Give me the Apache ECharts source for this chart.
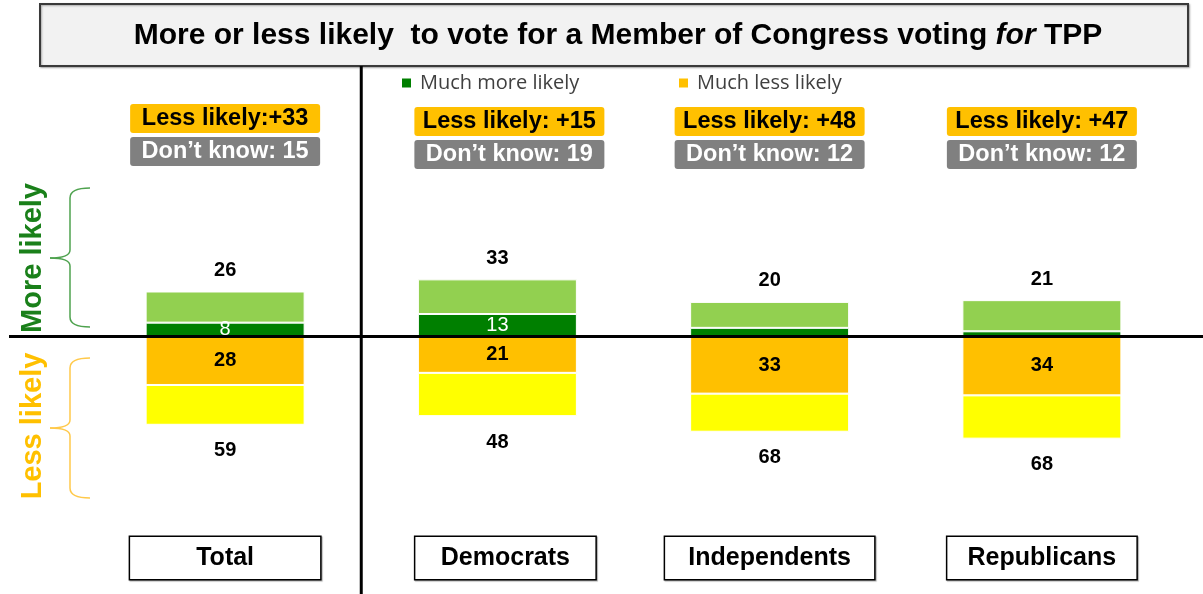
<!DOCTYPE html>
<html>
<head>
<meta charset="utf-8">
<script src="https://cdn.jsdelivr.net/npm/echarts@6/dist/echarts.min.js"></script>
<style>
html,body{margin:0;padding:0;background:#fff;}
#main{width:1203px;height:594px;}
</style>
</head>
<body>
<div id="main"></div>
<script>
const categories = ['Total', 'Democrats', 'Independents', 'Republicans'];
const muchMore = [8, 13, 5, 3];
const somewhatMore = [18, 20, 15, 18];
const muchLess = [28, 21, 33, 34];
const somewhatLess = [23, 25, 22, 25];
const moreTotals = [26, 33, 20, 21];
const lessTotals = [59, 48, 68, 68];
const netLabels = ['Less likely:+33', 'Less likely: +15', 'Less likely: +48', 'Less likely: +47'];
const dontKnow = [15, 19, 12, 12];

const BOLD = 'Liberation Sans, Arial, sans-serif';
const boxW = [190, 180, 209, 189];
const boxShift = [0, 8, 0, 0];
const annoShift = [0, 12, 0, 0];

const chart = echarts.init(document.getElementById('main'));
const rich = {sp1: {width: 16, height: 42}};
categories.forEach((c, i) => {
  rich['c' + i] = {
    width: boxW[i], height: 42, align: 'center', verticalAlign: 'middle',
    borderColor: '#000', borderWidth: 1.5, backgroundColor: '#fff',
    fontFamily: BOLD, fontWeight: 'bold', fontSize: 25, color: '#000',
    shadowColor: 'rgba(0,0,0,0.35)', shadowOffsetX: 1, shadowOffsetY: 1, shadowBlur: 1
  };
});

chart.setOption({
  animation: false,
  grid: {left: 89, right: 25, top: 198, bottom: 119},
  legend: [
    {data: ['Much more likely'], left: 400, top: 73, padding: 0, itemWidth: 11, itemHeight: 11, icon: 'rect', selectedMode: false,
     textStyle: {fontFamily: 'Open Sans', fontSize: 20, color: '#404040', padding: [0, 0, 0, 3]}},
    {data: ['Much less likely'], left: 677, top: 73, padding: 0, itemWidth: 11, itemHeight: 11, icon: 'rect', selectedMode: false,
     textStyle: {fontFamily: 'Open Sans', fontSize: 20, color: '#404040', padding: [0, 0, 0, 3]}}
  ],
  xAxis: {
    type: 'category', data: categories,
    axisLine: {show: false}, axisTick: {show: false},
    axisLabel: {margin: 62, interval: 0,
      formatter: (v, i) => (boxShift[i] ? '{sp1|}' : '') + '{c' + i + '|' + v + '}', rich: rich}
  },
  yAxis: {type: 'value', min: -80, max: 80, show: false},
  series: [
    {name: 'Much more likely', type: 'bar', stack: 'a', barWidth: 159, data: muchMore,
     itemStyle: {color: '#007F00', borderColor: '#fff', borderWidth: 1},
     label: {show: true, position: 'inside', color: '#fff', fontFamily: BOLD, fontSize: 20,
       formatter: p => (p.value >= 8 ? String(p.value) : '')}},
    {name: 'Somewhat more likely', type: 'bar', stack: 'a', barWidth: 159, data: somewhatMore,
     itemStyle: {color: '#92D050', borderColor: '#fff', borderWidth: 1},
     label: {show: true, position: 'top', distance: 11, color: '#000', fontFamily: BOLD, fontWeight: 'bold', fontSize: 20,
       formatter: p => String(moreTotals[p.dataIndex])}},
    {name: 'Much less likely', type: 'bar', stack: 'a', barWidth: 159, data: muchLess.map(v => -v),
     itemStyle: {color: '#FFC000', borderColor: '#fff', borderWidth: 1},
     label: {show: true, position: 'inside', color: '#000', fontFamily: BOLD, fontWeight: 'bold', fontSize: 20,
       formatter: p => String(muchLess[p.dataIndex])}},
    {name: 'Somewhat less likely', type: 'bar', stack: 'a', barWidth: 159, data: somewhatLess.map(v => -v),
     itemStyle: {color: '#FFFF00', borderColor: '#fff', borderWidth: 1},
     label: {show: true, position: 'bottom', distance: 16, color: '#000', fontFamily: BOLD, fontWeight: 'bold', fontSize: 20,
       formatter: p => String(lessTotals[p.dataIndex])}}
  ]
});

const xc = i => chart.convertToPixel({xAxisIndex: 0}, categories[i]);
const y0 = chart.convertToPixel({yAxisIndex: 0}, 0);
const divX = (xc(0) + xc(1)) / 2;
const g = [];
// title box
g.push({type: 'rect', shape: {x: 40, y: 4, width: 1148, height: 62},
  style: {fill: '#F2F2F2', stroke: '#3a3a3a', lineWidth: 2, shadowColor: 'rgba(0,0,0,0.3)', shadowBlur: 2, shadowOffsetX: 1, shadowOffsetY: 1}, z: 10});
g.push({type: 'text', x: 618, y: 36, z: 11, style: {
  text: '{b|More or less likely  to vote for a Member of Congress voting }{i|for}{b| TPP}',
  align: 'center', verticalAlign: 'middle',
  rich: {b: {fontFamily: BOLD, fontWeight: 'bold', fontSize: 30, fill: '#000'},
         i: {fontFamily: BOLD, fontWeight: 'bold', fontStyle: 'italic', fontSize: 30, fill: '#000'}}}});
// lines
g.push({type: 'line', shape: {x1: 9, y1: y0, x2: 1203, y2: y0}, style: {stroke: '#000', lineWidth: 3}, z: 20});
g.push({type: 'line', shape: {x1: divX, y1: 66, x2: divX, y2: 594}, style: {stroke: '#000', lineWidth: 3}, z: 20});
// annotation boxes
categories.forEach((c, i) => {
  const x = xc(i) + annoShift[i];
  const t = i === 0 ? 104 : 107;
  g.push({type: 'rect', shape: {x: x - 95, y: t, width: 190, height: 29, r: 3}, style: {fill: '#FFC000'}, z: 10});
  g.push({type: 'text', x: x, y: t + 15, z: 11, style: {text: netLabels[i], align: 'center', verticalAlign: 'middle',
    fontFamily: BOLD, fontWeight: 'bold', fontSize: 23.5, fill: '#000'}});
  g.push({type: 'rect', shape: {x: x - 95, y: t + 33, width: 190, height: 29, r: 3}, style: {fill: '#808080'}, z: 10});
  g.push({type: 'text', x: x, y: t + 48, z: 11, style: {text: 'Don\u2019t know: ' + dontKnow[i], align: 'center', verticalAlign: 'middle',
    fontFamily: BOLD, fontWeight: 'bold', fontSize: 23.5, fill: '#fff'}});
});
// side braces and labels
g.push({type: 'text', x: 33, y: 258, rotation: Math.PI / 2, z: 11, style: {text: 'More likely', align: 'center', verticalAlign: 'middle',
  fontFamily: BOLD, fontWeight: 'bold', fontSize: 29, fill: '#1A801A'}});
g.push({type: 'text', x: 33, y: 426, rotation: Math.PI / 2, z: 11, style: {text: 'Less likely', align: 'center', verticalAlign: 'middle',
  fontFamily: BOLD, fontWeight: 'bold', fontSize: 29, fill: '#FFC000'}});
function brace(top, mid, bot, color) {
  const st = {stroke: color, lineWidth: 1.5, fill: 'none'};
  return [
    {type: 'bezierCurve', z: 11, shape: {x1: 90, y1: top, cpx1: 70, cpy1: top, x2: 70, y2: top + 10}, style: st},
    {type: 'line', z: 11, shape: {x1: 70, y1: top + 10, x2: 70, y2: mid - 8}, style: st},
    {type: 'bezierCurve', z: 11, shape: {x1: 70, y1: mid - 8, cpx1: 70, cpy1: mid, x2: 50, y2: mid}, style: st},
    {type: 'bezierCurve', z: 11, shape: {x1: 50, y1: mid, cpx1: 70, cpy1: mid, x2: 70, y2: mid + 8}, style: st},
    {type: 'line', z: 11, shape: {x1: 70, y1: mid + 8, x2: 70, y2: bot - 10}, style: st},
    {type: 'bezierCurve', z: 11, shape: {x1: 70, y1: bot - 10, cpx1: 70, cpy1: bot, x2: 90, y2: bot}, style: st}
  ];
}
brace(188, 258, 327, '#4EA24E').forEach(e => g.push(e));
brace(358, 428, 498, '#FFC94A').forEach(e => g.push(e));
chart.setOption({graphic: g});
</script>
</body>
</html>
